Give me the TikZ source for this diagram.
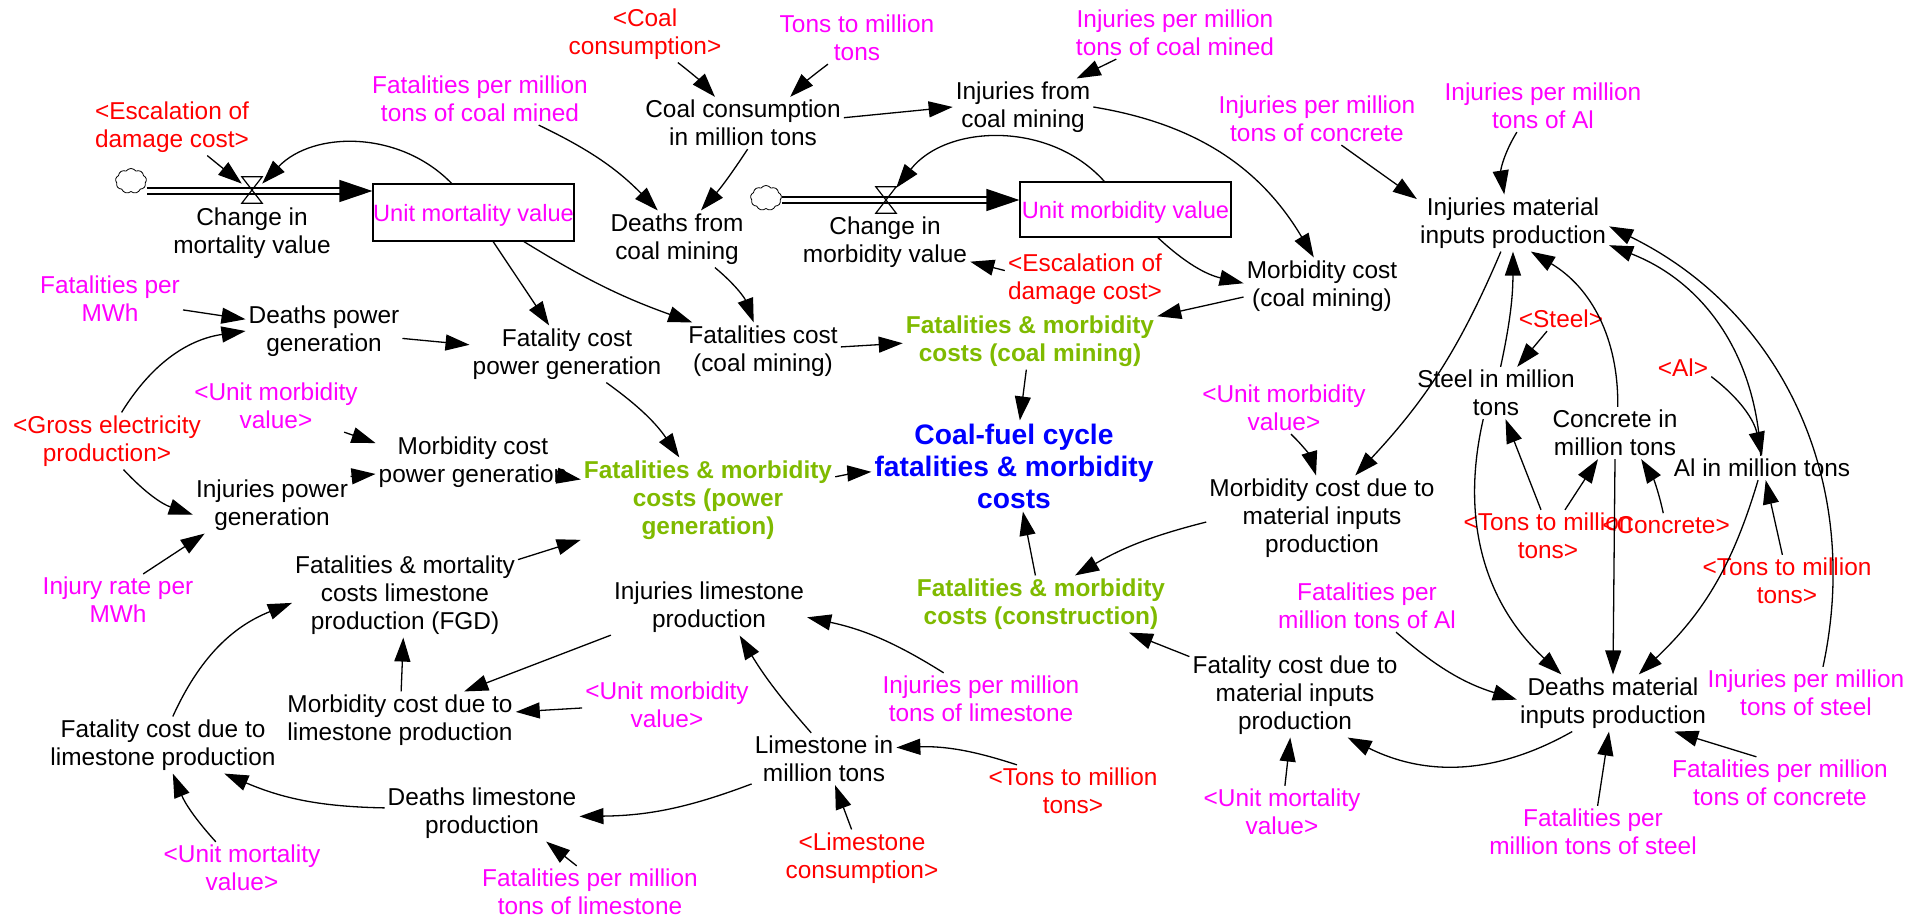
\documentclass[tikz,border=0pt]{standalone}
\usepackage{fontspec}
\setmainfont{Liberation Sans}
\usetikzlibrary{arrows.meta,shapes.symbols}
\definecolor{pinkvar}{RGB}{255,0,255}
\definecolor{greenvar}{RGB}{127,186,0}
\tikzset{
	auxvar/.style={align=center,inner sep=3pt,font=\fontsize{24.4}{28}\selectfont},
	constvar/.style={auxvar,text=pinkvar},
	shadowvar/.style={auxvar,text=red},
	costvar/.style={auxvar,text=greenvar,font=\fontsize{24.4}{28}\selectfont\bfseries},
	totalvar/.style={auxvar,text=blue,font=\fontsize{28.2}{32}\selectfont\bfseries},
	stockvar/.style={draw,line width=1.2pt,inner sep=0pt,text=pinkvar,font=\fontsize{23.6}{28}\selectfont},
	sourcecloud/.style={draw,cloud,cloud puffs=9,cloud puff arc=110,aspect=1.3,minimum width=31pt,minimum height=25pt,inner sep=0pt,line width=.8pt},
	link/.style={line width=1.3pt,-{Triangle[length=24pt,width=16pt]}},
	pipe/.style={double,double distance=4.5pt,line width=1.3pt,-{Triangle[length=33pt,width=22pt]}}
}
\begin{document}
\begin{tikzpicture}[x=1pt,y=-1pt]
	\def\flowvalve(#1,#2,#3){%
		\node[inner sep=0pt,minimum width=20pt,minimum height=26pt](#1)at(#2,#3){};%
		\draw[line width=1.2pt](#1.north west)--(#1.north east)--(#1.south west)--(#1.south east)--cycle;}%
	\useasboundingbox(0,0)rectangle(1923,917);

	% coal mining
	\node[shadowvar](coalRef)at(645,34){<Coal\\consumption>};
	\node[constvar](tonsRefA)at(857,38){Tons to million\\tons};
	\node[constvar](injMinedPer)at(1175,33){Injuries per million\\tons of coal mined};
	\node[auxvar](injCoal)at(1023,107){Injuries from\\coal mining};
	\node[auxvar](coalMt)at(743,123){Coal consumption\\in million tons};
	\node[constvar](fatMinedPer)at(480,99){Fatalities per million\\tons of coal mined};
	\node[auxvar](deathCoal)at(677,239){Deaths from\\coal mining};
	\node[auxvar](fatCoal)at(763,351){Fatalities cost\\(coal mining)};
	\node[auxvar](morbCoal)at(1322,286){Morbidity cost\\(coal mining)};
	\node[costvar](costCoal)at(1030,341){Fatalities \& morbidity\\costs (coal mining)};

	% stocks and flows
	\node[sourcecloud](cloudA)at(131,181){};
	\node[sourcecloud](cloudB)at(766,198){};
	\node[stockvar,minimum width=201pt,minimum height=57pt](unitMort)at(473.5,212.5){\raisebox{-9pt}[0pt][0pt]{Unit mortality value}};
	\node[stockvar,minimum width=211pt,minimum height=55pt](unitMorb)at(1125.5,209.5){\raisebox{-9pt}[0pt][0pt]{Unit morbidity value}};
	\draw[pipe](cloudA.east|-0,191)--(unitMort.west|-0,191);
	\draw[pipe](cloudB.east|-0,200)--(unitMorb.west|-0,200);
	\flowvalve(valveA,252,190)
	\flowvalve(valveB,886,200)
	\node[auxvar](changeMort)at(252,233){Change in\\mortality value};
	\node[auxvar](changeMorb)at(885,242){Change in\\morbidity value};
	\node[shadowvar](escalA)at(172,127){<Escalation of\\damage cost>};
	\node[shadowvar](escalB)at(1085,279){<Escalation of\\damage cost>};

	% power generation
	\node[constvar](fatMWh)at(110,299){Fatalities per\\MWh};
	\node[auxvar](deathPower)at(324,331){Deaths power\\generation};
	\node[auxvar](fatPower)at(567,354){Fatality cost\\power generation};
	\node[shadowvar](gross)at(107,441){<Gross electricity\\production>};
	\node[constvar](unitMorbA)at(276,406){<Unit morbidity\\value>};
	\node[auxvar](morbPower)at(473,462){Morbidity cost\\power generation};
	\node[auxvar](injPower)at(272,505){Injuries power\\generation};
	\node[constvar](injRate)at(118,600){Injury rate per\\MWh};
	\node[costvar](costPower)at(708,500){Fatalities \& morbidity\\costs (power\\generation)};
	\node[totalvar](total)at(1014,466){Coal-fuel cycle\\fatalities \& morbidity\\costs};

	% limestone
	\node[auxvar](fmLime)at(405,595){Fatalities \& mortality\\costs limestone\\production (FGD)};
	\node[auxvar](injLime)at(709,607){Injuries limestone\\production};
	\node[constvar](unitMorbB)at(667,705){<Unit morbidity\\value>};
	\node[auxvar](morbLime)at(400,720){Morbidity cost due to\\limestone production};
	\node[auxvar](fatLime)at(163,745){Fatality cost due to\\limestone production};
	\node[constvar](injLimePer)at(981,699){Injuries per million\\tons of limestone};
	\node[auxvar](limeMt)at(824,759){Limestone in\\million tons};
	\node[shadowvar](tonsRefB)at(1073,791){<Tons to million\\tons>};
	\node[auxvar](deathLime)at(482,813){Deaths limestone\\production};
	\node[shadowvar](limeRef)at(862,858){<Limestone\\consumption>};
	\node[constvar](unitMortA)at(242,868){<Unit mortality\\value>};
	\node[constvar](fatLimePer)at(590,892){Fatalities per million\\tons of limestone};

	% construction materials
	\node[constvar](injConcPer)at(1317,119){Injuries per million\\tons of concrete};
	\node[constvar](injAlPer)at(1543,106){Injuries per million\\tons of Al};
	\node[auxvar](injMat)at(1513,223){Injuries material\\inputs production};
	\node[shadowvar](steelRef)at(1561,319){<Steel>};
	\node[auxvar](steelMt)at(1496,393){Steel in million\\tons};
	\node[auxvar](concMt)at(1615,433){Concrete in\\million tons};
	\node[shadowvar](alRef)at(1683,368){<Al>};
	\node[auxvar](alMt)at(1762,468){Al in million tons};
	\node[shadowvar](tonsRefC)at(1548,536){<Tons to million\\tons>};
	\node[shadowvar](concRef)at(1666,525){<Concrete>};
	\node[shadowvar](tonsRefD)at(1787,581){<Tons to million\\tons>};
	\node[constvar](unitMorbC)at(1284,408){<Unit morbidity\\value>};
	\node[auxvar](morbMat)at(1322,518){Morbidity cost due to\\material inputs\\production};
	\node[costvar](costConstr)at(1041,604){Fatalities \& morbidity\\costs (construction)};
	\node[constvar](fatAlPer)at(1367,606){Fatalities per\\million tons of Al};
	\node[auxvar](fatMat)at(1295,695){Fatality cost due to\\material inputs\\production};
	\node[auxvar](deathMat)at(1613,703){Deaths material\\inputs production};
	\node[constvar](injSteelPer)at(1806,693){Injuries per million\\tons of steel};
	\node[constvar](fatConcPer)at(1780,783){Fatalities per million\\tons of concrete};
	\node[constvar](fatSteelPer)at(1593,832){Fatalities per\\million tons of steel};
	\node[constvar](unitMortB)at(1282,812){<Unit mortality\\value>};

	\begin{scope}[link]
		\draw(coalRef.-41)to[bend left=5](coalMt.137);
		\draw(tonsRefA.-138)to[bend right=4](coalMt.29);
		\draw(coalMt.3)to(injCoal.180);
		\draw(injMinedPer.-156)to(injCoal.28);
		\draw(injCoal.0)to[bend left=25](morbCoal.106);
		\draw(fatMinedPer.-24)to[bend left=10](deathCoal.124);
		\draw(coalMt.-80)to[bend left=4](deathCoal.50);
		\draw(deathCoal.-37)to[bend left=15](fatCoal.108);
		\draw(unitMort.-56)to(fatPower.122);
		\draw(unitMort.-30)to[bend right=6](fatCoal.158);
		\draw(fatCoal.3)to(costCoal.181);
		\draw(morbCoal.188)to(costCoal.11);
		\draw(unitMorb.-41)to[bend right=15](morbCoal.178);
		\draw(escalA)to(valveA.148);
		\draw(unitMort.127)to[bend right=46](valveA.32);
		\draw(unitMorb.127)to[bend right=50](valveB.50);
		\draw(escalB.174)to(changeMorb.-13);
		\draw(costCoal)to(total);
		\draw(costPower)to[bend left=4](total);
		\draw(costConstr)to(total);

		\draw(fatMWh)to(deathPower);
		\draw(gross.63)to[bend left=25](deathPower.180);
		\draw(gross.-60)to[bend right=14](injPower.187);
		\draw(injRate.46)to(injPower.203);
		\draw(deathPower)to(fatPower);
		\draw(injPower.20)to(morbPower.187);
		\draw(unitMorbA.-21)to(morbPower.169);
		\draw(morbPower)to(costPower);
		\draw(fatPower)to[bend left=10](costPower);
		\draw(fmLime)to(costPower);

		\draw(fatLime.71)to[bend left=22](fmLime.184);
		\draw(morbLime)to(fmLime);
		\draw(injLime.196)to(morbLime.24);
		\draw(unitMorbB.182)to(morbLime.4);
		\draw(limeMt.116)to[bend left=5](injLime.-43);
		\draw(limeMt.199)to[bend left=10](deathLime.-2);
		\draw(deathLime.177)to[bend left=11](fatLime.-25);
		\draw(unitMortA.135)to[bend left=10](fatLime.-71);
		\draw(fatLimePer.117)to(deathLime.-24);
		\draw(limeRef.110)to(limeMt.-67);
		\draw(tonsRefB.155)to[bend right=10](limeMt.9);
		\draw(injLimePer.145)to[bend right=10](injLime.-6);

		\draw(morbMat.182)to[bend right=8](costConstr.40);
		\draw(fatMat.160)to(costConstr.-18);
		\draw(unitMorbC.-75)to[bend left=15](morbMat.98);
		\draw(injMat.-113)to[bend left=10](morbMat.52);
		\draw(unitMortB)to(fatMat);
		\draw(deathMat.215)to[bend left=28](fatMat.-39);
		\draw(fatAlPer.-42)to[bend right=12](deathMat.178);
		\draw(fatSteelPer.80)to(deathMat.-98);
		\draw(fatConcPer.132)to(deathMat.-25);
		\draw(injSteelPer.57)to[bend right=38](injMat.-2);
		\draw(concMt.84)to[bend right=30](injMat.-58);
		\draw(alMt.96)to[bend right=33](injMat.-13);
		\draw(alRef.-17)to[bend left=20](alMt.90);
		\draw(steelMt.80)to[bend right=6](injMat.-90);
		\draw(steelRef.-139)to(steelMt.51);
		\draw(tonsRefC.105)to(steelMt.-70);
		\draw(tonsRefC.57)to(concMt.-123);
		\draw(concRef.103)to[bend right=10](concMt.-45);
		\draw(tonsRefD.100)to(alMt.-73);
		\draw(steelMt.-116)to[bend right=30](deathMat.151);
		\draw(concMt.-90)to(deathMat.90);
		\draw(alMt.-108)to[bend left=15](deathMat.48);
		\draw(injConcPer.-47)to(injMat.166);
		\draw(injAlPer.-135)to[bend right=20](injMat.107);
	\end{scope}
\end{tikzpicture}
\end{document}
